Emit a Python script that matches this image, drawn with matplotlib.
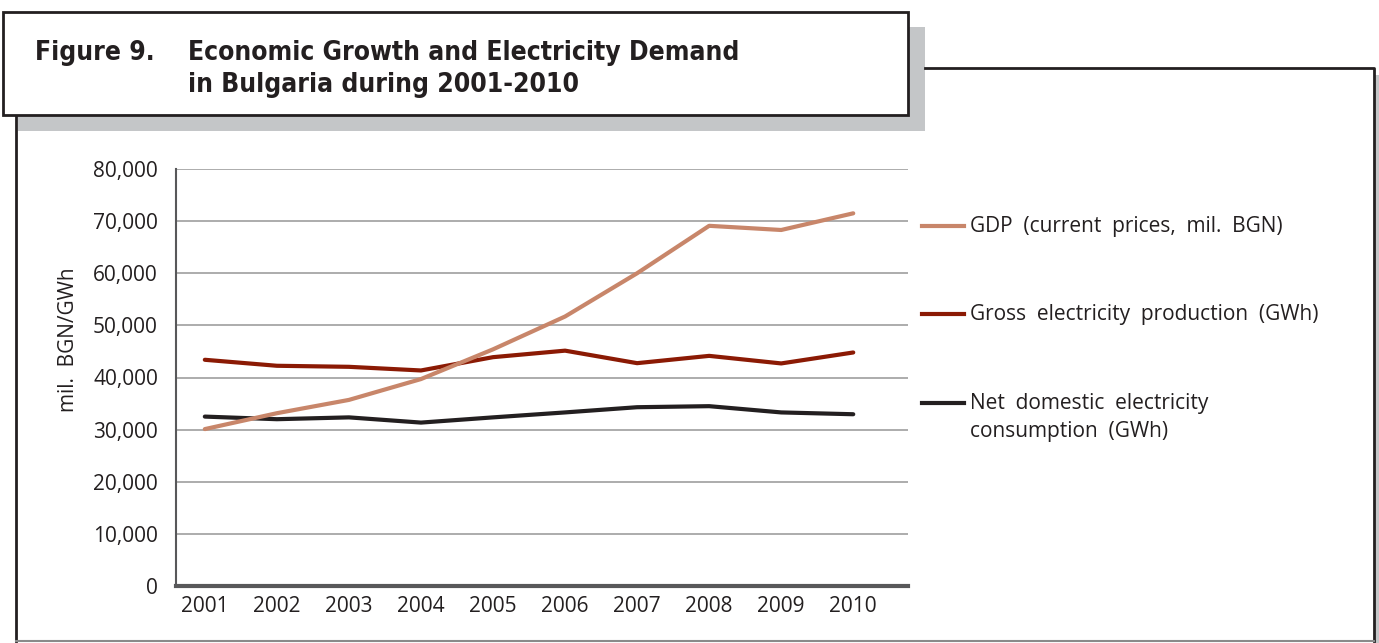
import matplotlib
matplotlib.use('Agg')
import matplotlib.pyplot as plt
from matplotlib import font_manager as fm
from matplotlib.patches import Rectangle
from matplotlib.lines import Line2D
from matplotlib.ticker import FuncFormatter

years = ['2001', '2002', '2003', '2004', '2005', '2006', '2007', '2008', '2009', '2010']
gdp = [30100, 33150, 35700, 39700, 45400, 51700, 60000, 69100, 68300, 71500]
gross = [43400, 42250, 42050, 41350, 43900, 45150, 42750, 44150, 42700, 44800]
net = [32500, 32000, 32350, 31350, 32350, 33300, 34300, 34500, 33300, 32950]

labels = ['GDP  (current  prices,  mil.  BGN)',
          'Gross  electricity  production  (GWh)',
          'Net  domestic  electricity\nconsumption  (GWh)']
colors = ['#c8866a', '#8b1a04', '#231f20']

W, H = 1379, 643
fig = plt.figure(figsize=(W / 100, H / 100), dpi=100)

def fx(px):
    return px / W

def fy(py):
    return 1 - py / H

font = ['Open Sans', 'DejaVu Sans']

# condensed bold face for the title, if one is installed
cands = [f.fname for f in fm.fontManager.ttflist
         if ('Narrow' in f.fname or 'Condensed' in f.fname) and 'Bold' in f.fname
         and 'Extra' not in f.fname and 'Semi' not in f.fname and 'Italic' not in f.fname]
if cands:
    tprop = fm.FontProperties(fname=sorted(cands)[0], size=19)
else:
    tprop = fm.FontProperties(family=['Liberation Sans', 'DejaVu Sans'], weight='bold', size=17)

# frame: title box with gray shadow, then the big box
fig.add_artist(Rectangle((fx(18), fy(131)), fx(925) - fx(18), fy(27) - fy(131),
                         transform=fig.transFigure, facecolor='#c4c6c8', edgecolor='none', zorder=1))
fig.add_artist(Rectangle((fx(1375), fy(643)), fx(1379) - fx(1375), fy(75) - fy(643),
                         transform=fig.transFigure, facecolor='#c4c6c8', edgecolor='none', zorder=1))
fig.add_artist(Line2D([fx(16), fx(16)], [fy(116), fy(641)], transform=fig.transFigure,
                      color='#231f20', lw=2, zorder=2))
fig.add_artist(Line2D([fx(925), fx(1374), fx(1374)], [fy(68), fy(68), fy(641)],
                      transform=fig.transFigure, color='#231f20', lw=2, zorder=2))
fig.add_artist(Line2D([fx(16), fx(1374)], [fy(641), fy(641)], transform=fig.transFigure,
                      color='#8a8a8a', lw=1.5, zorder=2))
fig.add_artist(Rectangle((fx(3), fy(115)), fx(908) - fx(3), fy(12) - fy(115),
                         transform=fig.transFigure, facecolor='white', edgecolor='#231f20',
                         lw=2, zorder=3))

fig.text(fx(35), fy(60), 'Figure 9.', fontproperties=tprop, color='#231f20', zorder=4)
fig.text(fx(188), fy(60), 'Economic Growth and Electricity Demand', fontproperties=tprop,
         color='#231f20', zorder=4)
fig.text(fx(188), fy(92), 'in Bulgaria during 2001-2010', fontproperties=tprop,
         color='#231f20', zorder=4)

ax = fig.add_axes([fx(176), fy(586), fx(908) - fx(176), fy(169) - fy(586)])
x = list(range(len(years)))
ax.plot(x, net, color=colors[2], lw=3, solid_capstyle='round', zorder=3)
ax.plot(x, gross, color=colors[1], lw=3, solid_capstyle='round', zorder=3)
ax.plot(x, gdp, color=colors[0], lw=3, solid_capstyle='round', zorder=4)

ax.set_xlim(-0.4, 9.76)
ax.set_ylim(0, 80000)
ax.set_xticks(x)
ax.set_xticklabels(years)
ax.set_yticks(range(0, 80001, 10000))
ax.yaxis.set_major_formatter(FuncFormatter(lambda v, p: f'{int(v):,}'))
ax.grid(axis='y', color='#a6a6a6', lw=1.3)
ax.set_axisbelow(True)
for s in ['top', 'right']:
    ax.spines[s].set_visible(False)
ax.spines['left'].set_color('#58585a')
ax.spines['left'].set_linewidth(1.5)
ax.spines['bottom'].set_color('#58585a')
ax.spines['bottom'].set_linewidth(3)
ax.tick_params(length=0, labelsize=15, colors='#231f20')
ax.tick_params(axis='y', pad=13)
ax.tick_params(axis='x', pad=7)
for t in ax.get_xticklabels() + ax.get_yticklabels():
    t.set_family(font)

fig.text(fx(68), fy(340), 'mil.  BGN/GWh', rotation=90, ha='center', va='center',
         family=font, fontsize=15, color='#231f20')

# legend drawn by hand to keep the wide spacing
leg_y = [226, 314, 403]
for lab, col, yy in zip(labels, colors, leg_y):
    fig.add_artist(Line2D([fx(922), fx(964)], [fy(yy), fy(yy)], transform=fig.transFigure,
                          color=col, lw=3))
    fig.text(fx(970), fy(yy - 10), lab, ha='left', va='top',
             family=font, fontsize=15, color='#231f20', linespacing=1.45)

fig.savefig('out.png', dpi=100)
